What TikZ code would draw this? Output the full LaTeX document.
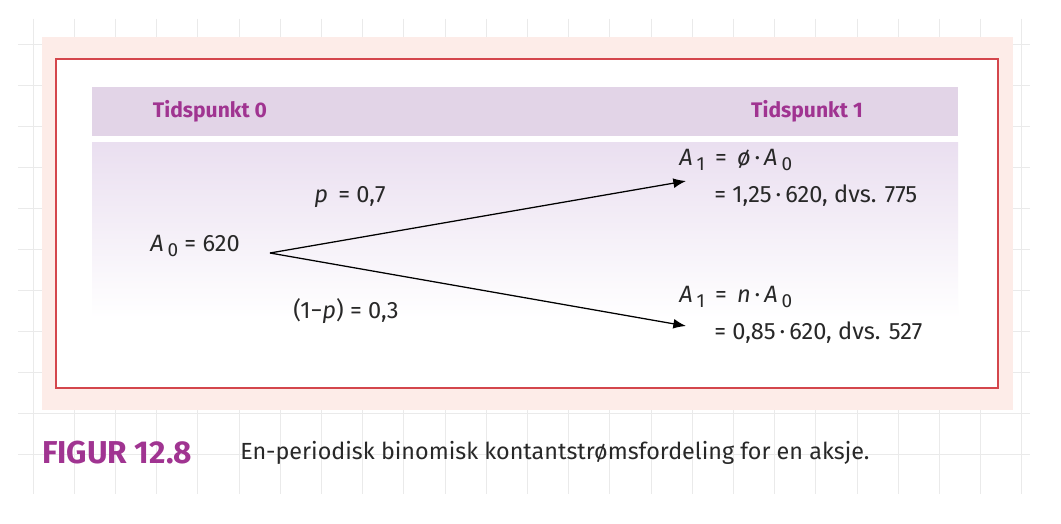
\documentclass[tikz,border=0pt]{standalone}
\usepackage{fontspec}
\setmainfont{Fira Sans}
\usetikzlibrary{arrows.meta}
\definecolor{gridgrey}{RGB}{234,234,234}
\definecolor{framepink}{RGB}{253,236,232}
\definecolor{framered}{RGB}{212,70,76}
\definecolor{headlilac}{RGB}{226,212,231}
\definecolor{bandlilac}{RGB}{234,223,240}
\definecolor{titlepurple}{RGB}{160,52,145}
\definecolor{inkgrey}{RGB}{40,40,40}
\newcommand{\Asub}[1]{\textit{A}\,\raisebox{-0.4ex}{\fontsize{13.5}{14}\selectfont #1}}

\begin{document}
\begin{tikzpicture}[x=0.025cm, y=-0.025cm,
    font=\fontsize{16.8}{20}\selectfont, text=inkgrey,
    lbl/.style={inner sep=0pt},
    head/.style={inner sep=0pt, font=\fontsize{15}{18}\selectfont\bfseries, text=titlepurple},
    branch/.style={line width=0.9pt, black, -{Latex[length=9pt, width=7pt]}}]

    \useasboundingbox (0,0) rectangle (1061,524);
    \fill[white] (0,0) rectangle (1061,524);

    % Grid paper
    \foreach \i in {0,...,24}{
      \draw[gridgrey, line width=0.6pt] ({33+41.2*\i},19) -- ({33+41.2*\i},494);
    }
    \foreach \j in {0,...,10}{
      \draw[gridgrey, line width=0.6pt] (18,{44+41*\j}) -- (1030,{44+41*\j});
    }

    % Frame
    \fill[framepink] (42,37) rectangle (1013,410);
    \fill[white] (56,59) rectangle (998,388);
    \draw[framered, line width=1.5pt] (56,59) rectangle (998,388);

    % Header and shaded band
    \fill[headlilac] (92,87) rectangle (958,136);
    \shade[top color=bandlilac, bottom color=white] (92,143) rectangle (958,318);

    % Headings
    \node[head] (t0) at (210,111) {Tidspunkt 0};
    \node[head] (t1) at (807,111) {Tidspunkt 1};

    % Start value
    \node[lbl, anchor=east] (a0) at (240,246) {\Asub{0} = 620};
    \coordinate (root) at (270,253);
    \coordinate (upend) at (686,181);
    \coordinate (downend) at (686,326);

    % Branches
    \draw[branch] (root) -- (upend);
    \draw[branch] (root) -- (downend);
    \node[lbl] (pup) at (350,197) {\textit{p}\,\ = 0,7};
    \node[lbl] (pdown) at (346,311) {(1−\textit{p}) = 0,3};

    % Outcomes
    \node[lbl, anchor=west] (upeq) at (679,160) {\Asub{1}\, =\, \textit{ø}\,·\,\Asub{0}};
    \node[lbl, anchor=west] (upval) at (714,196) {= 1,25\,·\,620, dvs. 775};
    \node[lbl, anchor=west] (downeq) at (679,297) {\Asub{1}\, =\, \textit{n}\,·\,\Asub{0}};
    \node[lbl, anchor=west] (downval) at (714,333) {= 0,85\,·\,620, dvs. 527};

    % Caption
    \node[lbl, anchor=west, font=\fontsize{22.5}{26}\selectfont\bfseries, text=titlepurple] (fig) at (42,453) {FIGUR 12.8};
    \node[lbl, anchor=west, font=\fontsize{16.6}{20}\selectfont] (cap) at (240,453) {En-periodisk binomisk kontantstrømsfordeling for en aksje.};

\end{tikzpicture}
\end{document}
